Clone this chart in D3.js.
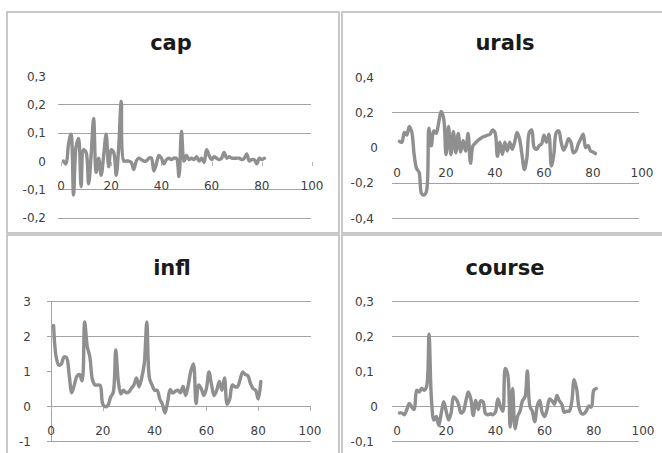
<!DOCTYPE html>
<html><head><meta charset="utf-8">
<script src="https://cdn.jsdelivr.net/npm/d3@7"></script>
<style>body{margin:0;background:#fff} svg{display:block}</style>
</head><body>
<svg id="c" width="662" height="453"></svg>
<script>
// ---- data ----
const capValues = [0.00,-0.01,0.06,0.095,-0.12,0.05,0.08,-0.09,0.04,0.03,-0.08,0.02,0.15,-0.04,0.01,-0.05,0.02,0.095,-0.02,0.04,0.03,-0.05,0.05,0.21,0.00,0.00,0.00,-0.005,-0.03,0.00,0.01,0.005,0.00,0.00,0.01,0.01,-0.035,-0.01,0.02,0.01,-0.01,0.005,0.01,0.005,0.01,0.01,-0.055,0.105,0.00,0.02,0.005,0.01,0.005,0.015,0.00,0.01,-0.005,0.04,0.02,0.005,0.015,0.01,0.005,0.01,0.03,0.01,0.015,0.01,0.01,0.01,0.01,0.005,0.01,0.025,0.00,0.005,0.005,-0.01,0.01,0.005,0.01];
const uralsValues = [0.035,0.03,0.085,0.07,0.12,0.09,-0.04,-0.12,-0.14,-0.26,-0.27,-0.25,0.11,0.01,0.095,0.08,0.14,0.205,0.17,-0.04,0.12,-0.04,0.09,-0.03,0.08,-0.025,0.04,-0.02,0.08,-0.09,0.01,0.025,0.04,0.05,0.06,0.065,0.07,0.075,0.1,0.085,-0.05,0.03,-0.04,0.03,-0.02,0.03,-0.01,0.03,0.085,0.05,-0.04,-0.125,-0.06,0.085,0.1,0.0,-0.01,0.01,0.02,0.07,0.03,0.075,-0.105,-0.04,0.085,0.095,0.03,-0.015,0.01,0.05,0.03,-0.03,-0.02,0.02,0.05,0.075,0.0,0.01,-0.02,-0.025,-0.035];
const inflValues = [2.3,1.4,1.17,1.2,1.4,1.38,0.9,0.38,0.6,0.85,0.9,0.72,2.4,1.7,1.4,0.75,0.6,0.6,0.58,0.05,-0.02,0.02,0.25,0.38,1.6,0.7,0.35,0.45,0.38,0.4,0.5,0.6,0.8,0.55,0.8,1.2,2.4,0.8,0.6,0.45,0.45,0.2,0.05,-0.2,0.1,0.47,0.37,0.42,0.45,0.38,0.56,0.3,0.6,1.0,1.2,0.07,0.6,0.5,0.3,0.5,0.97,0.6,0.3,0.45,0.7,0.45,0.8,0.05,0.2,0.6,0.55,0.55,0.75,0.97,0.9,0.87,0.65,0.5,0.45,0.2,0.7];
const courseValues = [-0.02,-0.02,-0.025,-0.01,0.007,-0.003,-0.01,0.045,0.04,0.05,0.045,0.055,0.205,0.02,-0.04,-0.03,-0.055,-0.02,0.012,-0.015,-0.04,-0.02,0.026,0.02,0.005,-0.02,-0.015,0.015,0.04,0.02,-0.027,0.016,-0.01,0.015,0.012,-0.022,-0.025,-0.022,-0.025,-0.018,0.02,0.0,-0.015,0.107,0.09,-0.06,0.05,-0.065,-0.03,-0.015,0.015,0.025,0.1,0.0,-0.015,-0.045,0.0,0.016,-0.018,-0.03,-0.01,0.02,0.015,0.005,0.03,0.015,0.005,-0.018,-0.015,-0.015,0.01,0.075,0.05,-0.005,-0.022,-0.022,-0.013,0.0,-0.003,0.045,0.05];
const titles = ["cap","urals","infl","course"];
const xTicks = [0,20,40,60,80,100];
const capYTicks = [0.3,0.2,0.1,0,-0.1,-0.2];
const uralsYTicks = [0.4,0.2,0,-0.2,-0.4];
const inflYTicks = [3,2,1,0,-1];
const courseYTicks = [0.3,0.2,0.1,0,-0.1];

// ---- layout (style) ----
const panels = [
  {title:titles[0], values:capValues, yTicks:capYTicks, yDom:[-0.2,0.3],
   box:[7,12,339,233], xr:[61,312], yr:[217.7,76], grid:[58,311], gridShow:[0.2,0.1,-0.1,-0.2],
   labelRight:46, tx:171, ty:50, ticks:true, axes:false, zeroShift:0},
  {title:titles[1], values:uralsValues, yTicks:uralsYTicks, yDom:[-0.4,0.4],
   box:[342,12,664,233], xr:[397,642], yr:[218,77], grid:[392,639], gridShow:[0.2,-0.2,-0.4],
   labelRight:374, tx:505, ty:50, ticks:false, axes:false, zeroShift:4},
  {title:titles[2], values:inflValues, yTicks:inflYTicks, yDom:[-1,3],
   box:[7,235,339,470], xr:[51,310], yr:[441,301], grid:[51,311], gridShow:[3,2,0,-1],
   labelRight:31, tx:172, ty:275, ticks:true, axes:true, zeroShift:0},
  {title:titles[3], values:courseValues, yTicks:courseYTicks, yDom:[-0.1,0.3],
   box:[342,235,664,470], xr:[397,643], yr:[441,301], grid:[392,639], gridShow:[0.3,0.2,0,-0.1],
   labelRight:374, tx:505, ty:275, ticks:false, axes:false, zeroShift:4}
];

const svg = d3.select("#c");
const fmt = d => String(d).replace(".", ",");

panels.forEach(p => {
  const g = svg.append("g");
  const [bx0,by0,bx1,by1] = p.box;
  g.append("rect").attr("x",bx0).attr("y",by0).attr("width",bx1-bx0).attr("height",by1-by0)
    .attr("fill","#fff").attr("stroke","#bcbcbc").attr("stroke-width",1.6);

  const x = d3.scaleLinear().domain([0,100]).range(p.xr);
  const y = d3.scaleLinear().domain(p.yDom).range(p.yr);

  g.selectAll(".grid").data(p.gridShow).join("line")
    .attr("x1",p.grid[0]).attr("x2",p.grid[1])
    .attr("y1",d=>Math.round(y(d))+0.5).attr("y2",d=>Math.round(y(d))+0.5)
    .attr("stroke","#a3a3a3").attr("stroke-width",1);

  if (p.axes) {
    g.append("line").attr("x1",x(0)+0.5).attr("x2",x(0)+0.5).attr("y1",y(p.yDom[1])).attr("y2",y(p.yDom[0]))
      .attr("stroke","#a3a3a3");
    g.selectAll(".yt").data(p.yTicks).join("line")
      .attr("x1",x(0)-4).attr("x2",x(0)).attr("y1",d=>Math.round(y(d))+0.5).attr("y2",d=>Math.round(y(d))+0.5)
      .attr("stroke","#a3a3a3");
  }
  if (p.ticks) {
    g.selectAll(".xt").data(xTicks).join("line")
      .attr("x1",d=>Math.round(x(d))+0.5).attr("x2",d=>Math.round(x(d))+0.5)
      .attr("y1",y(0)+1).attr("y2",y(0)+5)
      .attr("stroke","#b5b5b5");
  }

  g.selectAll(".yl").data(p.yTicks).join("text")
    .attr("x",d=>p.labelRight + (d===0?p.zeroShift:0)).attr("y",d=>y(d)+4.5)
    .attr("text-anchor","end").attr("font-family","DejaVu Sans").attr("font-size",12)
    .attr("fill","#404040").text(fmt);

  g.selectAll(".xl").data(xTicks).join("text")
    .attr("x",d=>x(d)).attr("y",y(0)+29)
    .attr("text-anchor","middle").attr("font-family","DejaVu Sans").attr("font-size",12)
    .attr("fill","#404040").text(fmt);

  const line = d3.line().x((d,i)=>x(i+1)).y(d=>y(d)).curve(d3.curveCatmullRom.alpha(0.5));
  g.append("path").datum(p.values).attr("d",line)
    .attr("fill","none").attr("stroke","#8f8f8f").attr("stroke-width",3.4)
    .attr("stroke-linejoin","round").attr("stroke-linecap","round");

  g.append("text").attr("x",p.tx).attr("y",p.ty).attr("text-anchor","middle")
    .attr("font-family","DejaVu Sans").attr("font-weight","bold").attr("font-size",21)
    .attr("fill","#1a1a1a").text(p.title);
});
</script>
</body></html>
